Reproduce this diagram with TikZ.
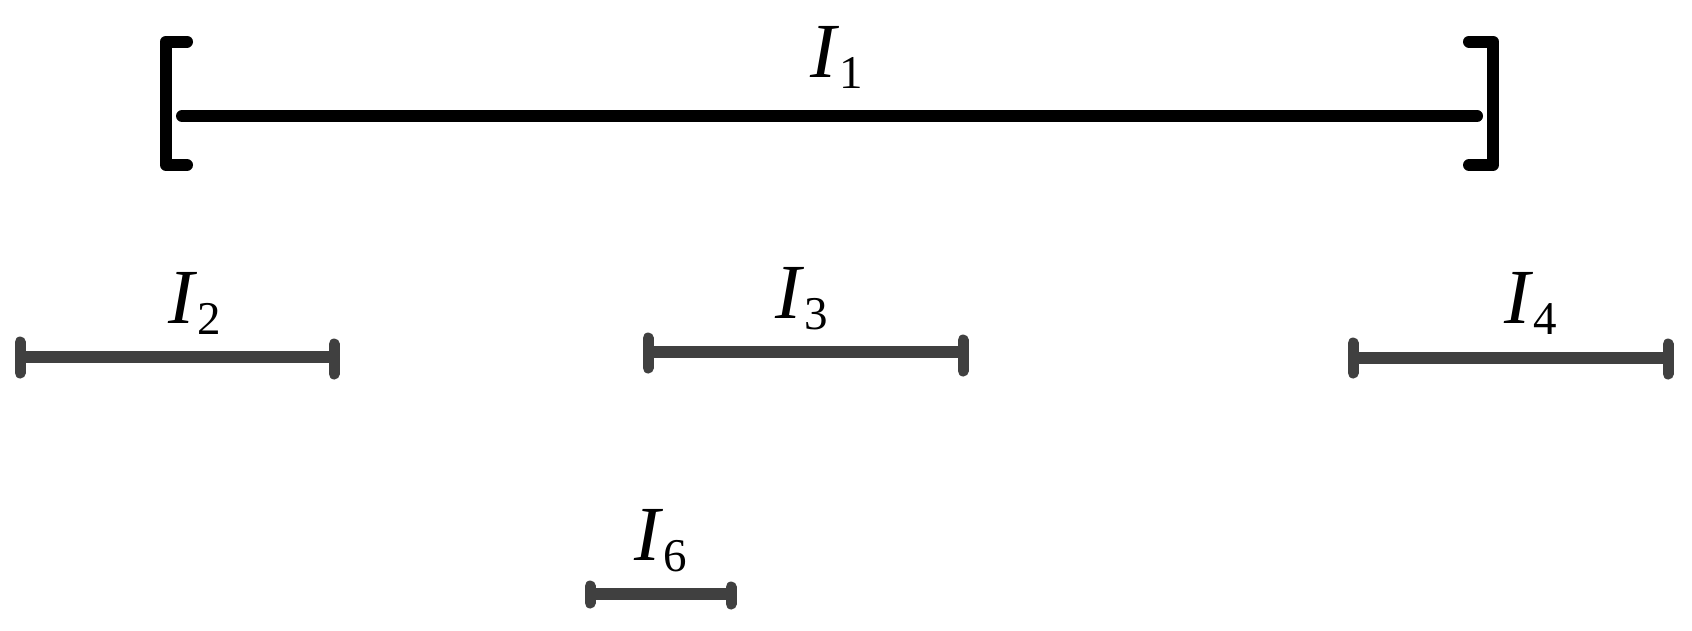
\documentclass[tikz,border=0pt]{standalone}
\usepackage{fontspec}
\setmainfont{Liberation Serif}
\newcommand{\ivl}[1]{\textit{I}\raisebox{-11pt}{\fontsize{47}{47}\selectfont #1}}
\tikzset{
  blk/.style={line width=12pt, black, line cap=round, line join=round},
  gry/.style={line width=12pt, draw={rgb,255:red,64;green,64;blue,64}},
  tick/.style={gry, line width=11pt, line cap=round},
  lbl/.style={anchor=base, inner sep=0pt, font=\fontsize{78}{78}\selectfont}
}
\begin{document}
\begin{tikzpicture}[x=1pt,y=-1pt]
\useasboundingbox (0,0) rectangle (1692,630);
% I1
\coordinate (a1) at (182,116); \coordinate (b1) at (1477,116);
\draw[blk] (187,41.5) -- (166,41.5) -- (166,165) -- (187,165);
\draw[blk] (1469,41.5) -- (1493,41.5) -- (1493,165) -- (1469,165);
\draw[blk] (a1) -- (b1);
\node[lbl] (l1) at (836.5,77) {\ivl{1}};
% I2
\coordinate (a2) at (20,357); \coordinate (b2) at (334,357);
\draw[gry] (a2) -- (b2);
\draw[tick] (20,342) -- (20,373);
\draw[tick] (334,344) -- (334,374);
\node[lbl] (l2) at (195,323) {\ivl{2}};
% I3
\coordinate (a3) at (648,352); \coordinate (b3) at (963,352);
\draw[gry] (a3) -- (b3);
\draw[tick] (648,338) -- (648,368);
\draw[tick] (963,340) -- (963,371);
\node[lbl] (l3) at (801.5,318) {\ivl{3}};
% I4
\coordinate (a4) at (1353,358); \coordinate (b4) at (1668,358);
\draw[gry] (a4) -- (b4);
\draw[tick] (1353,343) -- (1353,373);
\draw[tick] (1668,344) -- (1668,374);
\node[lbl] (l4) at (1530.5,323) {\ivl{4}};
% I6
\coordinate (a6) at (590,594); \coordinate (b6) at (731,594);
\draw[gry] (a6) -- (b6);
\draw[tick] (590,586) -- (590,603);
\draw[tick] (731,587) -- (731,604);
\node[lbl] (l6) at (661,560) {\ivl{6}};
\end{tikzpicture}
\end{document}
